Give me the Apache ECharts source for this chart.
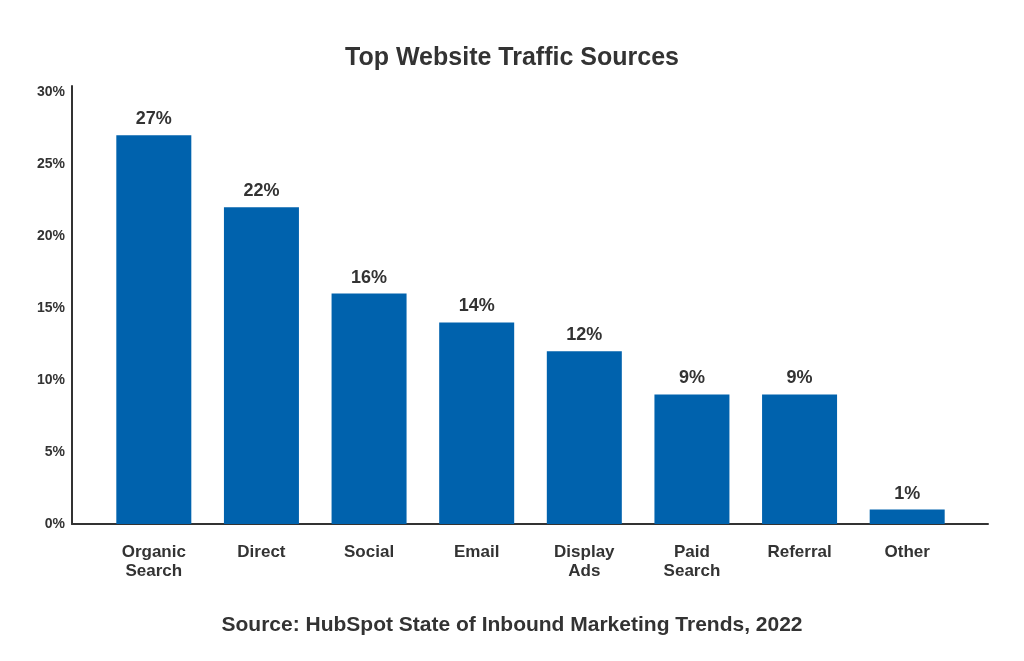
<!DOCTYPE html>
<html>
<head>
<meta charset="utf-8">
<title>Top Website Traffic Sources</title>
<script src="https://cdn.jsdelivr.net/npm/echarts@6/dist/echarts.min.js"></script>
<style>
  html, body { margin: 0; padding: 0; background: #fff; }
  #chart1 { width: 1024px; height: 661px; }
</style>
</head>
<body>
<div id="chart1"></div>
<script type="text/javascript">
    // data
    var categories = ['Organic\nSearch', 'Direct', 'Social', 'Email', 'Display\nAds', 'Paid\nSearch', 'Referral', 'Other'];
    var shares = [27, 22, 16, 14, 12, 9, 9, 1];
    var yTicks = [0, 5, 10, 15, 20, 25, 30];

    var textColor = '#333333';
    var font = 'Liberation Sans, Arial, sans-serif';

    var myChart = echarts.init(document.getElementById('chart1'));

    var option = {
        animation: false,
        backgroundColor: '#ffffff',
        title: [{
            text: 'Top Website Traffic Sources',
            left: 'center',
            top: 41,
            textStyle: { fontFamily: font, fontSize: 25, fontWeight: 'bold', color: textColor }
        }, {
            text: 'Source: HubSpot State of Inbound Marketing Trends, 2022',
            left: 'center',
            top: 610,
            textStyle: { fontFamily: font, fontSize: 21, fontWeight: 'bold', color: textColor }
        }],
        // grid 0 only carries the axis lines, grid 1 carries the bars
        grid: [
            { left: 72, right: 36, top: 86, bottom: 137 },
            { left: 100, right: 63, top: 92, bottom: 137 }
        ],
        xAxis: [{
            gridIndex: 0,
            type: 'category',
            data: categories,
            axisLine: { lineStyle: { color: '#333', width: 2 } },
            axisTick: { show: false },
            axisLabel: { show: false }
        }, {
            gridIndex: 1,
            type: 'category',
            data: categories,
            axisLine: { show: false },
            axisTick: { show: false },
            axisLabel: {
                margin: 19,
                color: textColor,
                fontFamily: font,
                fontSize: 17,
                fontWeight: 'bold',
                lineHeight: 19
            }
        }],
        yAxis: [{
            gridIndex: 0,
            type: 'value',
            min: 0,
            max: 30.4,
            axisLine: { show: true, lineStyle: { color: '#333', width: 2 } },
            axisTick: { show: false },
            axisLabel: { show: false },
            splitLine: { show: false }
        }, {
            gridIndex: 1,
            type: 'value',
            min: yTicks[0],
            max: yTicks[yTicks.length - 1],
            interval: 5,
            offset: 28,
            axisLine: { show: false },
            axisTick: { show: false },
            splitLine: { show: false },
            axisLabel: {
                margin: 7,
                formatter: '{value}%',
                color: textColor,
                fontFamily: font,
                fontSize: 14,
                fontWeight: 'bold'
            }
        }],
        series: [{
            name: 'Share',
            type: 'bar',
            xAxisIndex: 1,
            yAxisIndex: 1,
            data: shares,
            barWidth: 75,
            itemStyle: { color: '#0062ad' },
            label: {
                show: true,
                position: 'top',
                distance: 7,
                formatter: '{c}%',
                color: textColor,
                fontFamily: font,
                fontSize: 18,
                fontWeight: 'bold'
            }
        }]
    };

    myChart.setOption(option);
</script>
</body>
</html>
